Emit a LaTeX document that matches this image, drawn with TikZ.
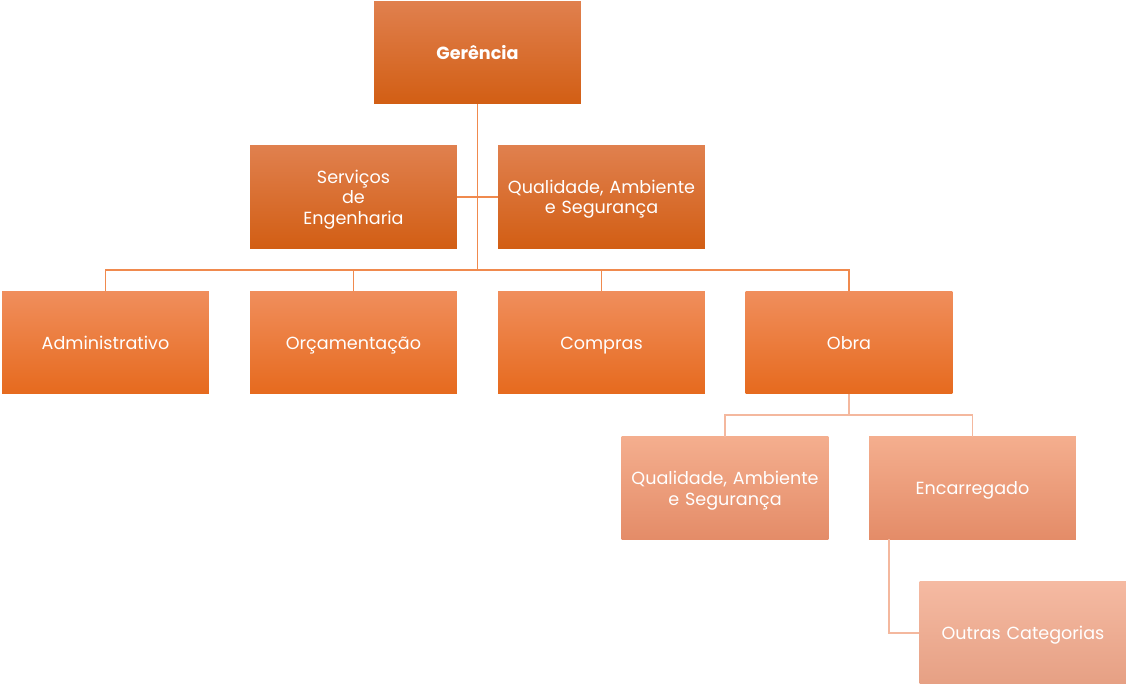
\documentclass[tikz,border=0pt]{standalone}
\usepackage{fontspec}
\setmainfont{Poppins}
\usetikzlibrary{positioning}
\definecolor{darkA}{HTML}{E0804E}
\definecolor{darkB}{HTML}{E06C24}
\definecolor{darkC}{HTML}{D25E14}
\definecolor{midA}{HTML}{F08E5C}
\definecolor{midB}{HTML}{F47C30}
\definecolor{midC}{HTML}{E66A1E}
\definecolor{lightA}{HTML}{F4AE8E}
\definecolor{lightB}{HTML}{F3A07A}
\definecolor{lightC}{HTML}{E48C68}
\definecolor{paleA}{HTML}{F5BAA2}
\definecolor{paleB}{HTML}{F4AE8E}
\definecolor{paleC}{HTML}{E6A084}
\definecolor{lineA}{HTML}{F08A4E}
\definecolor{lineB}{HTML}{F4B89E}
\newcommand{\boxstrut}{\rule[-0.2\baselineskip]{0pt}{1.1\baselineskip}}
\tikzset{
  box/.style={rectangle, minimum width=5.125cm, minimum height=2.55cm, inner sep=1pt,
    text width=5.1cm, align=center, text=white, font=\fontsize{12.5}{14.5}\selectfont,
    execute at begin node=\boxstrut},
  dark/.style={box, top color=darkA, middle color=darkB, bottom color=darkC},
  mid/.style={box, top color=midA, middle color=midB, bottom color=midC},
  light/.style={box, top color=lightA, middle color=lightB, bottom color=lightC},
  pale/.style={box, top color=paleA, middle color=paleB, bottom color=paleC},
  edge/.style={draw=lineA, line width=1pt},
  subedge/.style={draw=lineB, line width=1pt}
}

\begin{document}
\begin{tikzpicture}[x=0.025cm,y=-0.025cm]
    \useasboundingbox (0,0) rectangle (1126,684);

    % Top and assistants
    \draw(477.5,52.5) node[dark, font=\fontsize{12.5}{14.5}\selectfont\bfseries] (ger) {Gerência};
    \draw(353.5,197) node[dark] (ser) {Serviços\\de\\Engenharia};
    \draw(601.5,197) node[dark] (qas) {Qualidade, Ambiente\\e Segurança};

    % Departments
    \draw(105.5,342.5) node[mid] (adm) {Administrativo};
    \draw(353.5,342.5) node[mid] (orc) {Orçamentação};
    \draw(601.5,342.5) node[mid] (com) {Compras};
    \draw(849,342.5) node[mid] (obr) {Obra};

    % Site level
    \draw(725,488) node[light] (qso) {Qualidade, Ambiente\\e Segurança};
    \draw(972.5,488) node[light] (enc) {Encarregado};
    \draw(1023,633) node[pale] (out) {Outras Categorias};

    \coordinate (bus) at (0,270);
    \coordinate (sub) at (0,415);

    % Edges
    \draw[edge] (ger) -- (ger |- bus);
    \draw[edge] (ser) -- (qas);
    \foreach \target in {adm, orc, com, obr} {
            \draw[edge] (ger |- bus) -| (\target);
        }
    \draw[subedge] (obr) -- (obr |- sub);
    \foreach \target in {qso, enc} {
            \draw[subedge] (obr |- sub) -| (\target);
        }
    \draw[subedge] ([xshift=0.5cm]enc.south west) |- (out);
\end{tikzpicture}
\end{document}
